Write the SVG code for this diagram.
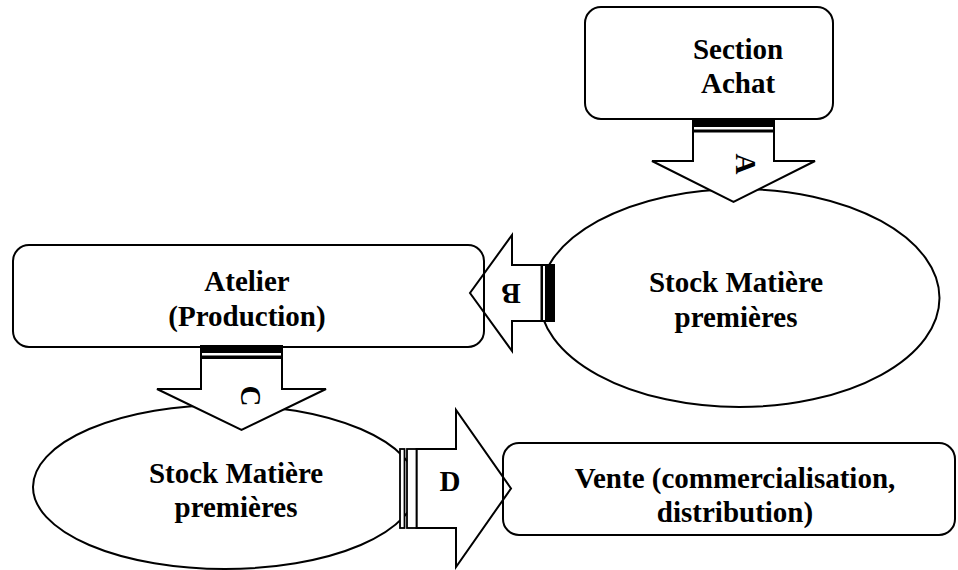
<svg xmlns="http://www.w3.org/2000/svg" width="958" height="570" viewBox="0 0 958 570">
<style>
.shape{fill:#fff;stroke:#000;stroke-width:2}
.box{fill:none;stroke:#000;stroke-width:2}
.lbl{font-family:"Liberation Serif","Times New Roman",serif;font-weight:bold;font-size:29px;fill:#000;text-anchor:middle}
.bar{fill:#000;stroke:none}
.obar{fill:#fff;stroke:#000;stroke-width:1.8}
</style>
<rect width="958" height="570" fill="#fff"/>
<g id="stock1">
<ellipse class="shape" cx="739.5" cy="298" rx="200" ry="109"/>
<text class="lbl" x="736" y="292">Stock Matière</text>
<text class="lbl" x="736" y="327">premières</text>
</g>
<g id="stock2">
<ellipse class="shape" cx="225" cy="487" rx="192" ry="82"/>
<text class="lbl" x="236" y="483">Stock Matière</text>
<text class="lbl" x="236" y="517">premières</text>
</g>
<g id="connectors">
<g id="arrowA">
<polygon class="shape" points="693,119 774,119 774,161 815,161 733.5,202 652,161 693,161"/>
<rect class="bar" x="693" y="119" width="81" height="8"/>
<rect class="bar" x="693" y="129.5" width="81" height="3"/>
<text class="lbl" transform="translate(746,164) rotate(90)" x="0" y="10">A</text>
</g>
<g id="arrowB">
<polygon class="shape" points="554,265 512,265 512,235 470,293 512,351 512,321 554,321"/>
<rect class="bar" x="545" y="265" width="9" height="56"/>
<rect class="bar" x="540.5" y="265" width="2.5" height="56"/>
<text class="lbl" transform="translate(511,294) rotate(180)" x="0" y="10">B</text>
</g>
<g id="arrowC">
<polygon class="shape" points="201,346 282,346 282,389 326,389 241.5,430 157,389 201,389"/>
<rect class="bar" x="201" y="346" width="81" height="7"/>
<rect class="bar" x="201" y="355.5" width="81" height="3.5"/>
<text class="lbl" transform="translate(251,396) rotate(90)" x="0" y="10">C</text>
</g>
<g id="arrowD">
<polygon class="shape" points="416.5,449 456,449 456,410 511,488.5 456,567 456,528 416.5,528"/>
<rect class="obar" x="400" y="449" width="4.5" height="79"/>
<rect class="obar" x="407" y="449" width="9.5" height="79"/>
<text class="lbl" x="450" y="491">D</text>
</g>
</g>
<g id="achat">
<rect class="shape" x="585" y="7" width="248" height="112" rx="16"/>
<text class="lbl" x="738" y="59">Section</text>
<text class="lbl" x="738" y="93">Achat</text>
</g>
<g id="atelier">
<rect class="box" x="13" y="245" width="471" height="102" rx="16"/>
<text class="lbl" x="247" y="291">Atelier</text>
<text class="lbl" x="247" y="326">(Production)</text>
</g>
<g id="vente">
<rect class="box" x="503" y="443" width="452" height="92" rx="16"/>
<text class="lbl" x="735" y="488">Vente (commercialisation,</text>
<text class="lbl" x="735" y="522">distribution)</text>
</g>
</svg>
